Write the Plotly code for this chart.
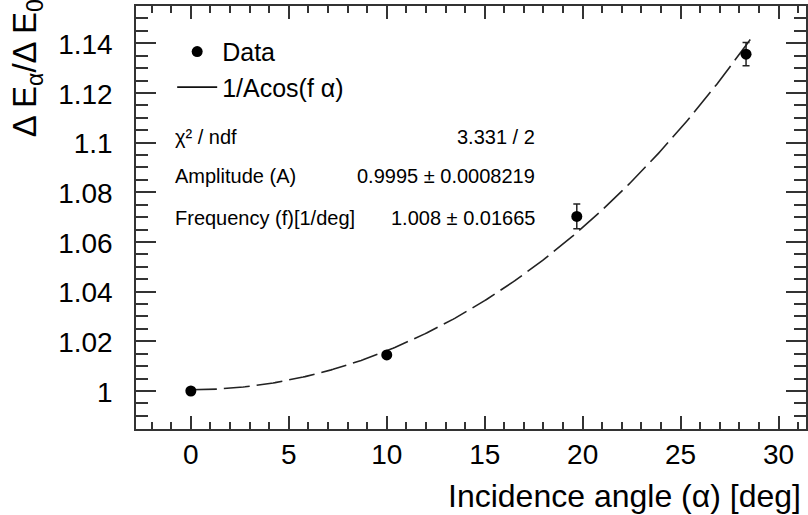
import numpy as np
import plotly.graph_objects as go

# Data points
angle_deg = [0.0, 10.0, 19.7, 28.34]
ratio = [1.0, 1.0145, 1.0703, 1.1356]
ratio_err = [0.0008, 0.0012, 0.005, 0.0047]

# Fit parameters (from the stats box)
amp_A = 0.9995
freq_f = 1.008
fit_range = [0.0, 28.56]

x_ticks = [0, 5, 10, 15, 20, 25, 30]
y_ticks = [1.0, 1.02, 1.04, 1.06, 1.08, 1.1, 1.12, 1.14]
y_ticktext = ["1", "1.02", "1.04", "1.06", "1.08", "1.1", "1.12", "1.14"]

stats_labels = ["χ² / ndf", "Amplitude (A)", "Frequency (f)[1/deg]"]
stats_values = ["3.331 / 2", "0.9995 ± 0.0008219", "1.008 ± 0.01665"]

FONT = "Liberation Sans, Arial, Helvetica, sans-serif"
AX = "#333333"

fit_x = np.linspace(fit_range[0], fit_range[1], 300)
fit_y = 1.0 / (amp_A * np.cos(np.radians(freq_f * fit_x)))

fig = go.Figure()
# fitted function (dashed in the plot)
fig.add_trace(go.Scatter(
    x=fit_x, y=fit_y, mode="lines", name="1/Acos(f α)", showlegend=False,
    legendgroup="fit",
    line=dict(color="#222222", width=1.6, dash="26px,7px"),
))
# legend entry for the fit (solid line sample, as in the reference legend)
fig.add_trace(go.Scatter(
    x=[None], y=[None], mode="lines", name="1/Acos(f α)", legendgroup="fit",
    line=dict(color="#111111", width=1.6),
))
fig.add_trace(go.Scatter(
    x=angle_deg, y=ratio, mode="markers", name="Data",
    marker=dict(color="black", size=11, symbol="circle"),
    error_y=dict(type="data", array=ratio_err, visible=True,
                 color="#222222", thickness=1.5, width=3.5),
))

fig.update_layout(
    width=808, height=515,
    margin=dict(l=136, r=0, t=6, b=86),
    paper_bgcolor="white", plot_bgcolor="white",
    font=dict(family=FONT, color="black"),
    showlegend=True,
    legend=dict(
        x=0.054, y=0.946, xanchor="left", yanchor="top",
        bgcolor="rgba(0,0,0,0)", borderwidth=0,
        font=dict(size=25, family=FONT),
        traceorder="reversed", itemwidth=40, tracegroupgap=0,
    ),
)

fig.update_xaxes(
    range=[-2.8, 31.4], tickmode="array", tickvals=x_ticks,
    ticks="inside", ticklen=13, tickwidth=1.5, tickcolor=AX,
    minor=dict(dtick=1, tick0=0, ticks="inside", ticklen=7, tickwidth=1.5, tickcolor=AX),
    showline=True, linecolor=AX, linewidth=1.5, mirror="allticks",
    showgrid=False, zeroline=False,
    tickfont=dict(size=28, family=FONT, color="black"),
    ticklabelstandoff=0,
)
fig.update_yaxes(
    range=[0.9847, 1.155], tickmode="array", tickvals=y_ticks, ticktext=y_ticktext,
    ticks="inside", ticklen=20, tickwidth=1.5, tickcolor=AX,
    minor=dict(dtick=0.005, tick0=1.0, ticks="inside", ticklen=12, tickwidth=1.5, tickcolor=AX),
    showline=True, linecolor=AX, linewidth=1.5, mirror="allticks",
    showgrid=False, zeroline=False,
    tickfont=dict(size=28, family=FONT, color="black"),
    ticklabelstandoff=16, ticklabelshift=1,
)

# Axis titles (ROOT style: aligned to the axis end)
fig.add_annotation(
    text="Incidence angle (α) [deg]", xref="paper", yref="paper",
    x=0.995, y=-0.158, xanchor="right", yanchor="middle", showarrow=False,
    font=dict(size=32, family=FONT, color="black"),
)
fig.add_annotation(
    text="Δ E<sub>α</sub>/Δ E<sub>0</sub>", xref="paper", yref="paper",
    x=-0.163, y=1.02, xanchor="center", yanchor="top", textangle=-90, showarrow=False,
    font=dict(size=33, family=FONT, color="black"),
)

# Stats box text
stat_y = [0.691, 0.598, 0.499]
for lab, val, yy in zip(stats_labels, stats_values, stat_y):
    fig.add_annotation(text=lab, xref="paper", yref="paper", x=0.055, y=yy,
                       xanchor="left", yanchor="middle", showarrow=False,
                       font=dict(size=20, family=FONT, color="black"))
    fig.add_annotation(text=val, xref="paper", yref="paper", x=0.598, y=yy,
                       xanchor="right", yanchor="middle", showarrow=False,
                       font=dict(size=20, family=FONT, color="black"))

fig.write_html("out.html")
